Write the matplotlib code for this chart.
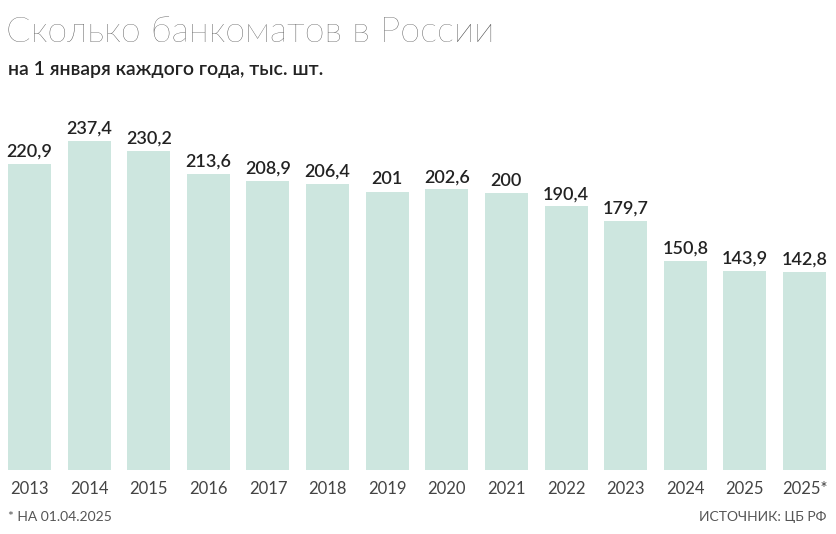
import matplotlib
matplotlib.use("Agg")
import matplotlib.pyplot as plt

years = ["2013","2014","2015","2016","2017","2018","2019","2020","2021","2022","2023","2024","2025","2025*"]
values = [220.9,237.4,230.2,213.6,208.9,206.4,201,202.6,200,190.4,179.7,150.8,143.9,142.8]
labels = [f"{v:g}".replace(".", ",") for v in values]

W, H = 837, 534
fig = plt.figure(figsize=(W/100, H/100), dpi=100)
ax = fig.add_axes([8/W, 1-470/H, 818/W, 370/H])
x = range(len(values))
ax.bar(x, values, width=0.72, color="#cde6df")
ax.set_xlim(-0.36, len(values)-1+0.36)
ax.set_ylim(0, 370/1.385)
for i, (v, l) in enumerate(zip(values, labels)):
    ax.text(i, v+3, l, ha="center", va="bottom", fontsize=13, color="#222222", family="Lato", fontweight="semibold")
ax.set_xticks(list(x))
ax.set_xticklabels(years, fontsize=12, color="#444444", family="Lato")
ax.tick_params(length=0, pad=8)
ax.set_yticks([])
for s in ax.spines.values():
    s.set_visible(False)

fig.text(6/W, 1-32/H, "Сколько банкоматов в России", fontsize=26, color="#444444", family="Lato", fontweight="light", va="center")
fig.text(8/W, 1-69/H, "на 1 января каждого года, тыс. шт.", fontsize=14, color="#222222", family="Lato", fontweight="semibold", va="center")
fig.text(8/W, 1-517/H, "* НА 01.04.2025", fontsize=10, color="#555555", family="Lato", va="center")
fig.text(826/W, 1-517/H, "ИСТОЧНИК: ЦБ РФ", fontsize=10, color="#555555", family="Lato", va="center", ha="right")
fig.savefig("out.png", dpi=100)
